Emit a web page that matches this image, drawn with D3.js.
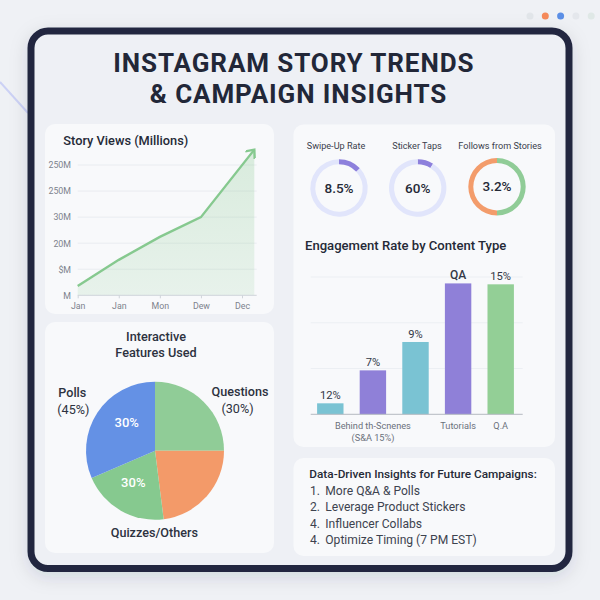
<!DOCTYPE html>
<html>
<head>
<meta charset="utf-8">
<script src="https://cdn.jsdelivr.net/npm/d3@7"></script>
<style>
    html, body { margin: 0; padding: 0; background: #eef0f4; }
    svg { display: block; }
    text { font-family: Roboto, sans-serif; }
</style>
</head>
<body>
<svg id="chart" width="600" height="600"></svg>
<script>
// Story views line
const viewMonths = [0, 1, 2, 3, 4.3];
const viewValues = [3.6, 13.6, 22.4, 30, 55.9];
const viewYTicks = [0, 10, 20, 30, 40, 50];
const viewYLabels = ['M', '$M', '20M', '30M', '250M', '250M'];
const viewXTicks = [0, 1, 2, 3, 4];
const viewXLabels = ['Jan', 'Jan', 'Mon', 'Dew', 'Dec'];

// Pie slices, clockwise from the top
const pieNames = ['Questions', 'Orange', 'Quizzes/Others', 'Polls'];
const pieValues = [25, 23, 20.5, 31.5];
const pieColors = ['#90cc97', '#f39a69', '#86c98f', '#6491e5'];

// Rings
const ringTitles = ['Swipe-Up Rate', 'Sticker Taps', 'Follows from Stories'];
const ringLabels = ['8.5%', '60%', '3.2%'];
const ringParts = [[13, 87], [9, 91], [50, 50]];
const ringColors = [['#8d80dc', '#e1e5fb'], ['#8d80dc', '#e1e5fb'], ['#90cc97', '#f39c6b']];

// Engagement bars
const barKeys = ['a', 'b', 'c', 'd', 'e'];
const barValues = [1.2, 4.8, 7.9, 14.3, 14.2];
const barLabels = ['12%', '7%', '9%', 'QA', '15%'];
const barColors = ['#7ac3d3', '#8f80d8', '#7ac3d3', '#8f80d8', '#93cf96'];
const barNames = ['', 'Behind th-Scnenes', '', 'Tutorials', 'Q.A'];
const barGrid = [5, 10, 15];

const insightItems = [
    ['1.', 'More Q&A & Polls'],
    ['2.', 'Leverage Product Stickers'],
    ['4.', 'Influencer Collabs'],
    ['4.', 'Optimize Timing (7 PM EST)']
];

const svg = d3.select('#chart');
const defs = svg.append('defs');

function label(parent, x, y, str, size, color, weight, anchor) {
    return parent.append('text')
        .attr('x', x)
        .attr('y', y)
        .attr('font-size', size)
        .attr('font-weight', weight || 400)
        .attr('fill', color)
        .attr('text-anchor', anchor || 'middle')
        .text(str);
}

function card(x, y, w, h) {
    svg.append('rect')
        .attr('x', x).attr('y', y)
        .attr('width', w).attr('height', h)
        .attr('rx', 10)
        .attr('fill', '#f8f9fb');
}

// Page background and frame
const shadow = defs.append('filter').attr('id', 'frameShadow')
    .attr('x', '-10%').attr('y', '-10%').attr('width', '120%').attr('height', '120%');
shadow.append('feDropShadow')
    .attr('dx', 0).attr('dy', 5).attr('stdDeviation', 9)
    .attr('flood-color', '#1f2740').attr('flood-opacity', 0.13);

svg.append('rect').attr('width', 600).attr('height', 600).attr('fill', '#eff1f5');
svg.append('line')
    .attr('x1', 0).attr('y1', 82).attr('x2', 28).attr('y2', 113)
    .attr('stroke', '#ccd1f5').attr('stroke-width', 2);

const dotColors = ['#e2e6ea', '#f58a5a', '#5b8fe6', '#e4e7ec', '#dfe8e6'];
svg.selectAll('.dot').data(dotColors).enter().append('circle')
    .attr('cx', (d, i) => 530 + i * 15.3)
    .attr('cy', 16)
    .attr('r', 3.5)
    .attr('fill', d => d);

svg.append('rect')
    .attr('x', 31).attr('y', 31)
    .attr('width', 538).attr('height', 537.5)
    .attr('rx', 17)
    .attr('fill', '#eef0f5')
    .attr('stroke', '#222840')
    .attr('stroke-width', 7)
    .attr('filter', 'url(#frameShadow)');

// Title
label(svg, 293.8, 72.3, 'INSTAGRAM STORY TRENDS', 26, '#222738', 700).attr('letter-spacing', 0.9);
label(svg, 298.5, 102.6, '& CAMPAIGN INSIGHTS', 26, '#222738', 700).attr('letter-spacing', 0.9);

card(45, 124, 229, 190);
card(45, 322, 229, 231);
card(293.5, 124.5, 261.5, 322.5);
card(293.5, 458, 261.5, 98);

// Story views chart
label(svg, 63.3, 145, 'Story Views (Millions)', 12.8, '#252a37', 500, 'start');

const viewX = d3.scaleLinear().domain([0, 4]).range([77.7, 242]);
const viewY = d3.scaleLinear().domain([0, 50]).range([295.3, 165]);
const viewData = viewMonths.map((m, i) => ({ m: m, v: viewValues[i] }));

svg.append('g').selectAll('line').data(viewYTicks.slice(1)).enter().append('line')
    .attr('x1', viewX(0)).attr('x2', 256.7)
    .attr('y1', d => viewY(d)).attr('y2', d => viewY(d))
    .attr('stroke', '#e9ecf0').attr('stroke-width', 1);

const areaFade = defs.append('linearGradient').attr('id', 'areaFade')
    .attr('x1', 0).attr('y1', 0).attr('x2', 0).attr('y2', 1);
areaFade.append('stop').attr('offset', 0).attr('stop-color', '#90cc97').attr('stop-opacity', 0.3);
areaFade.append('stop').attr('offset', 1).attr('stop-color', '#90cc97').attr('stop-opacity', 0.16);

svg.append('path').datum(viewData)
    .attr('d', d3.area().x(d => viewX(d.m)).y0(viewY(0)).y1(d => viewY(d.v)))
    .attr('fill', 'url(#areaFade)');

const arrow = defs.append('marker').attr('id', 'arrowHead')
    .attr('viewBox', '0 0 12 12')
    .attr('refX', 9).attr('refY', 6)
    .attr('markerWidth', 12).attr('markerHeight', 12)
    .attr('markerUnits', 'userSpaceOnUse')
    .attr('orient', 'auto');
arrow.append('path')
    .attr('d', 'M2,0 L9,6 L2,12')
    .attr('fill', 'none')
    .attr('stroke', '#86c98f')
    .attr('stroke-width', 2.4);

svg.append('path').datum(viewData)
    .attr('d', d3.line().x(d => viewX(d.m)).y(d => viewY(d.v)))
    .attr('fill', 'none')
    .attr('stroke', '#86c98f')
    .attr('stroke-width', 2.4)
    .attr('marker-end', 'url(#arrowHead)');

const viewYAxis = svg.append('g')
    .attr('transform', 'translate(71,0)')
    .call(d3.axisLeft(viewY)
        .tickValues(viewYTicks)
        .tickSize(0)
        .tickPadding(0)
        .tickFormat((d, i) => viewYLabels[i]));
viewYAxis.select('.domain').remove();

const viewXAxis = svg.append('g')
    .attr('transform', `translate(0,${viewY(0)})`)
    .call(d3.axisBottom(viewX)
        .tickValues(viewXTicks)
        .tickSize(3)
        .tickPadding(4)
        .tickFormat((d, i) => viewXLabels[i]));
viewXAxis.select('.domain').attr('stroke', '#cfd4da').attr('d', `M${viewX(0)},0H256.7`);
viewXAxis.selectAll('line').attr('stroke', '#cfd4da');

[viewYAxis, viewXAxis].forEach(a => {
    a.selectAll('text')
        .attr('font-size', 8.8)
        .attr('font-family', 'Roboto, sans-serif')
        .attr('fill', '#7d838d');
});

// Pie
label(svg, 156, 340.7, 'Interactive', 12.7, '#2d3240', 500);
label(svg, 156, 356.7, 'Features Used', 12.7, '#2d3240', 500);

const pieGroup = svg.append('g').attr('transform', 'translate(155,450.7)');
const pieArcs = d3.pie().sort(null)(pieValues);
pieGroup.selectAll('path').data(pieArcs).enter().append('path')
    .attr('d', d3.arc().innerRadius(0).outerRadius(69))
    .attr('fill', (d, i) => pieColors[i]);

label(svg, 72.3, 397, 'Polls', 12.6, '#2d3240', 500);
label(svg, 73.3, 414, '(45%)', 12.6, '#2d3240', 400);
label(svg, 240, 396, 'Questions', 12.6, '#2d3240', 500);
label(svg, 237.5, 413, '(30%)', 12.6, '#2d3240', 400);
label(svg, 154.3, 537, 'Quizzes/Others', 12.6, '#2d3240', 500);
label(svg, 126.7, 427, '30%', 13, '#ffffff', 500);
label(svg, 133.3, 487, '30%', 13, '#ffffff', 500);

// Rings
const ringX = [339, 417.7, 497];
const ringY = [188, 188, 186.7];
const ringTitleX = [336, 417, 500];
const ringArc = d3.arc().innerRadius(23.7).outerRadius(28.7);

ringParts.forEach((parts, i) => {
    label(svg, ringTitleX[i], 149, ringTitles[i], 9.1, '#3a404c', 400);
    const g = svg.append('g').attr('transform', `translate(${ringX[i]},${ringY[i]})`);
    g.selectAll('path').data(d3.pie().sort(null)(parts)).enter().append('path')
        .attr('d', ringArc)
        .attr('fill', (d, j) => ringColors[i][j]);
    label(svg, ringX[i], ringY[i] + 4.5, ringLabels[i], 13.5, '#252a37', 500);
});

// Engagement bars
label(svg, 305, 250, 'Engagement Rate by Content Type', 13.1, '#252a37', 500, 'start');

const barX = d3.scaleBand().domain(barKeys).range([309, 522]).paddingInner(0.38).paddingOuter(0.19);
const barY = d3.scaleLinear().domain([0, 15]).range([414.3, 277]);

svg.append('g').selectAll('line').data(barGrid).enter().append('line')
    .attr('x1', 310.7).attr('x2', 522.7)
    .attr('y1', d => barY(d)).attr('y2', d => barY(d))
    .attr('stroke', '#eceff3').attr('stroke-width', 1);

svg.append('g').selectAll('rect').data(barValues).enter().append('rect')
    .attr('x', (d, i) => barX(barKeys[i]))
    .attr('y', d => barY(d))
    .attr('width', barX.bandwidth())
    .attr('height', d => barY(0) - barY(d))
    .attr('fill', (d, i) => barColors[i]);

svg.append('line')
    .attr('x1', 310.7).attr('x2', 522.7)
    .attr('y1', barY(0)).attr('y2', barY(0))
    .attr('stroke', '#b4b9c1').attr('stroke-width', 1);

barValues.forEach((v, i) => {
    const cx = barX(barKeys[i]) + barX.bandwidth() / 2;
    label(svg, cx, barY(v) - 4, barLabels[i], i === 3 ? 12 : 11.2, '#333846', i === 3 ? 500 : 400);
    if (barNames[i]) {
        label(svg, cx, 429, barNames[i], 9.2, '#6b717c', 400);
    }
});
label(svg, 373, 441, '(S&A 15%)', 9.2, '#6b717c', 400);

// Insights
label(svg, 309.3, 478.3, 'Data-Driven Insights for Future Campaigns:', 11.8, '#252a37', 500, 'start');
insightItems.forEach((item, i) => {
    const y = 495 + i * 16.45;
    label(svg, 310, y, item[0], 12.1, '#3d434f', 400, 'start');
    label(svg, 325.3, y, item[1], 12.1, '#3d434f', 400, 'start');
});
</script>
</body>
</html>
